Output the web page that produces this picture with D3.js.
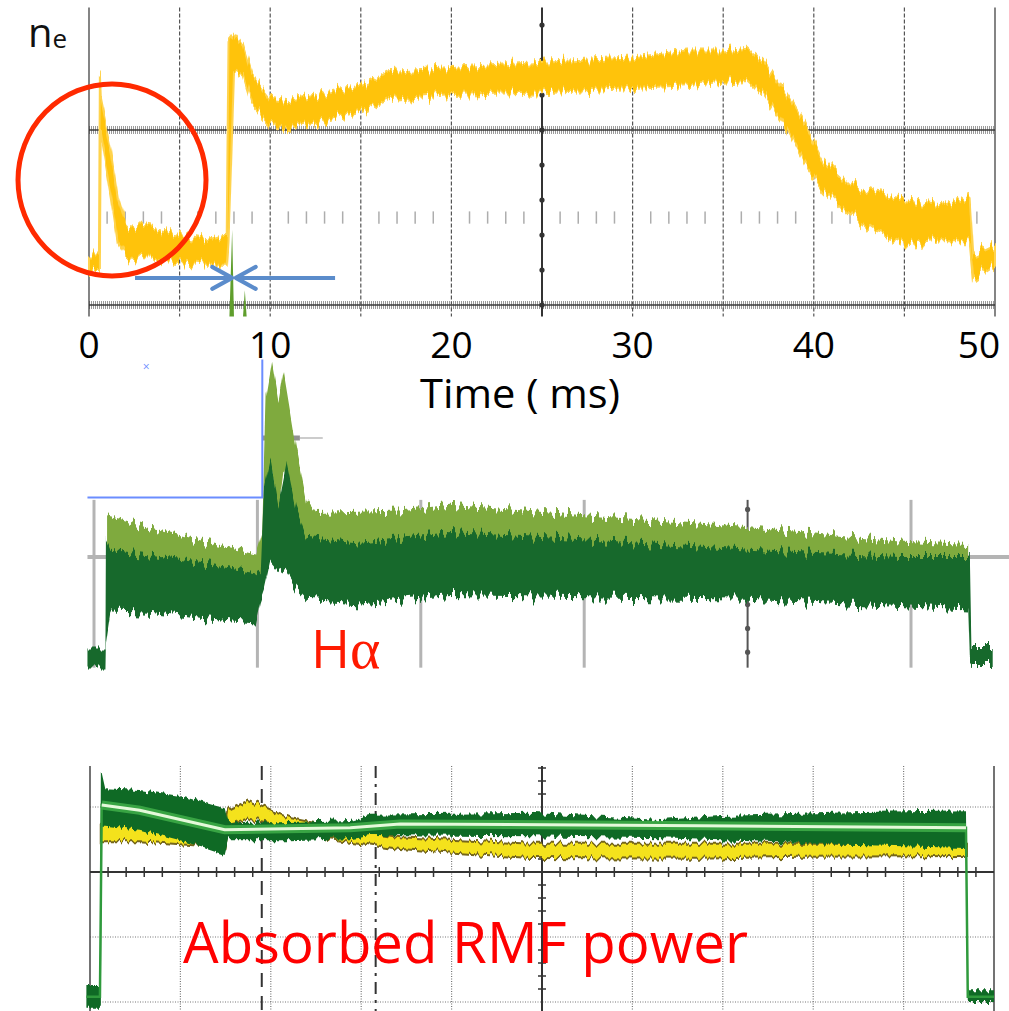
<!DOCTYPE html>
<html lang="en">
<head>
<meta charset="UTF-8">
<title>n_e, H-alpha and absorbed RMF power</title>
<script src="https://d3js.org/d3.v7.min.js"></script>
<style>
  body { margin: 0; padding: 0; background: #fff; }
  svg { display: block; font-family: "Open Sans", sans-serif; }
</style>
</head>
<body>
<div id="chart"></div>
<script>
// ---------- top trace: electron density n_e (time in ms, height in scope divisions)
const neTime = [0, 0.55, 0.6, 0.65, 1.2, 1.6, 2, 3, 5, 6.5, 7.4, 7.6, 7.7, 8.0, 8.5, 9, 10, 11, 13, 15, 16.5,
                20, 25, 30, 33, 35, 36.3, 37.2, 38.5, 39.5, 40.5, 42, 43.5, 45, 47, 48.6, 48.8, 50];
const neHigh = [0.59, 0.59, 2.61, 2.34, 1.77, 1.2, 0.91, 0.88, 0.8, 0.74, 0.8, 0.8, 3.03, 3.11, 2.97, 2.63, 2.37, 2.34, 2.43, 2.51, 2.66,
                2.71, 2.78, 2.83, 2.91, 2.91, 2.94, 2.78, 2.4, 2.06, 1.66, 1.37, 1.26, 1.2, 1.14, 1.26, 0.57, 0.69];
const neLow  = [0.4, 0.4, 0.4, 1.94, 1.26, 0.69, 0.54, 0.51, 0.49, 0.46, 0.46, 0.46, 0.74, 2.69, 2.63, 2.29, 2.06, 2.02, 2.11, 2.21, 2.34,
                2.4, 2.43, 2.48, 2.51, 2.55, 2.57, 2.4, 2.0, 1.6, 1.31, 1.03, 0.8, 0.69, 0.74, 0.74, 0.29, 0.46];
const timeTicks = [0, 10, 20, 30, 40, 50];
// green trigger spikes in the top trace
const spikeTime = [7.75, 7.9, 8.0, 8.5, 8.6, 8.7];
const spikeHigh = [-0.13, 0.86, -0.13, -0.13, 0.17, -0.13];

// ---------- H-alpha traces (x and y in scope divisions)
const haDarkX    = [-0.04, 0.07, 0.073, 0.1, 0.34, 0.65, 0.99, 1.02, 1.04, 1.08, 1.13, 1.18, 1.24, 1.3, 1.63, 2.18, 3.1, 4.01, 4.93, 5.35, 5.36, 5.37, 5.5];
const haDarkHigh = [-0.76, -0.76, 0.14, 0.06, 0.02, -0.04, -0.13, -0.11, 0.56, 0.82, 0.44, 0.79, 0.39, 0.17, 0.12, 0.21, 0.14, 0.06, 0, 0, 0, -0.74, -0.74];
const haDarkLow  = [-0.92, -0.92, -0.7, -0.45, -0.46, -0.51, -0.55, -0.36, -0.28, -0.03, -0.11, -0.15, -0.28, -0.36, -0.39, -0.32, -0.34, -0.36, -0.42, -0.45, -0.87, -0.89, -0.89];
const haLightX    = [0.08, 0.34, 0.65, 0.99, 1.03, 1.05, 1.09, 1.13, 1.16, 1.24, 1.3, 1.36, 1.87, 2.18, 3.1, 4.01, 4.93, 5.35];
const haLightHigh = [0.35, 0.25, 0.14, 0.03, 0.23, 1.32, 1.64, 1.32, 1.57, 0.9, 0.48, 0.37, 0.39, 0.44, 0.34, 0.25, 0.13, 0.1];
const haLightLow  = [-0.03, -0.07, -0.11, -0.19, -0.19, 0.31, 0.73, 0.39, 0.73, 0.31, 0.1, 0.06, 0.08, 0.1, 0.06, 0.02, -0.03, -0.07];

// ---------- absorbed RMF power traces (scope divisions)
const rmfGreenX    = [-0.04, 0.11, 0.12, 0.13, 0.17, 0.55, 1.0, 1.49, 1.53, 2.21, 2.88, 3.1, 4.87, 6.31, 6.97, 8.41, 9.69, 9.71, 10.0];
const rmfGreenHigh = [-1.74, -1.74, 1.54, 1.54, 1.29, 1.26, 1.17, 0.98, 0.75, 0.77, 0.8, 0.88, 0.91, 0.8, 0.86, 0.92, 0.95, -1.82, -1.82];
const rmfGreenLow  = [-2.09, -2.09, -2.09, 0.71, 0.71, 0.65, 0.49, 0.26, 0.49, 0.49, 0.52, 0.57, 0.55, 0.52, 0.49, 0.42, 0.37, -2.0, -2.0];
const rmfCoreX     = [-0.04, 0.11, 0.13, 0.55, 1.49, 2.88, 3.43, 6.75, 9.69, 9.71, 10.0];
const rmfCoreV     = [-1.92, -1.92, 1.03, 0.95, 0.65, 0.68, 0.74, 0.71, 0.68, -1.92, -1.92];
const rmfYellowX    = [0.13, 0.55, 1.22, 1.49, 1.53, 1.77, 1.99, 2.21, 2.65, 2.99, 3.43, 4.87, 6.75, 7.85, 9.69];
const rmfYellowHigh = [0.74, 0.71, 0.62, 0.57, 0.92, 1.08, 0.95, 0.83, 0.71, 0.62, 0.52, 0.42, 0.42, 0.42, 0.42];
const rmfYellowLow  = [0.49, 0.49, 0.42, 0.37, 0.74, 0.83, 0.77, 0.68, 0.52, 0.46, 0.37, 0.23, 0.22, 0.25, 0.26];

const W = 1009, H = 1011;
const svg = d3.select("#chart").append("svg")
    .attr("width", W)
    .attr("height", H);

const defs = svg.append("defs");

// jagged-edge look of the scope traces (only moves the drawn band up/down a little)
function addJag(id, freq, scale, seed) {
    const f = defs.append("filter").attr("id", id)
        .attr("x", "-2%").attr("y", "-40%").attr("width", "104%").attr("height", "180%")
        .attr("color-interpolation-filters", "sRGB");
    f.append("feTurbulence").attr("type", "fractalNoise")
        .attr("baseFrequency", freq + " 0.002").attr("numOctaves", 2)
        .attr("seed", seed).attr("result", "n");
    f.append("feColorMatrix").attr("in", "n").attr("type", "matrix")
        .attr("values", "0 0 0 0 0.5  0 1 0 0 0  0 0 1 0 0  0 0 0 0 1")
        .attr("result", "m");
    f.append("feDisplacementMap").attr("in", "SourceGraphic").attr("in2", "m")
        .attr("scale", scale).attr("xChannelSelector", "R").attr("yChannelSelector", "G");
}
addJag("jagNe", 0.35, 22, 3);
addJag("jagHa", 0.25, 26, 7);
addJag("jagRmf", 0.3, 10, 11);

function band(xs, x, y, hi, lo) {
    return d3.area()
        .x(i => x(xs[i]))
        .y0(i => y(lo[i]))
        .y1(i => y(hi[i]))(d3.range(xs.length));
}

// ================= panel 1 : n_e =================
const x1 = d3.scaleLinear().domain([0, 50]).range([89, 995]);
const y1 = d3.scaleLinear().domain([0, 1]).range([305, 217.5]);
const p1 = svg.append("g");

// thick noisy reference lines
[0, 2].forEach(v => {
    p1.append("line").attr("x1", x1(0)).attr("x2", x1(50)).attr("y1", y1(v)).attr("y2", y1(v))
        .attr("stroke", "#8a8a8a").attr("stroke-width", 8).attr("stroke-dasharray", "1,1").attr("opacity", 0.85);
    p1.append("line").attr("x1", x1(0)).attr("x2", x1(50)).attr("y1", y1(v)).attr("y2", y1(v))
        .attr("stroke", "#3a3a3a").attr("stroke-width", 2).attr("opacity", 0.75);
});

// minor ticks along the middle row
p1.selectAll(".minor").data(d3.range(1, 50).filter(t => t % 5 !== 0)).enter().append("line")
    .attr("x1", d => x1(d)).attr("x2", d => x1(d))
    .attr("y1", y1(1.07)).attr("y2", y1(0.93))
    .attr("stroke", "#777").attr("stroke-width", 1.5).attr("opacity", 0.6);

// vertical grid
p1.selectAll(".vgrid").data(d3.range(0, 51, 5)).enter().append("line")
    .attr("x1", d => x1(d)).attr("x2", d => x1(d))
    .attr("y1", y1(3.4)).attr("y2", y1(-0.13))
    .attr("stroke", d => (d === 0 || d === 50 || d === 25) ? "#333" : "#555")
    .attr("stroke-width", d => d === 25 ? 2 : 1.2)
    .attr("stroke-dasharray", d => (d === 0 || d === 50 || d === 25) ? null : "4,2");
p1.selectAll(".cdot").data(d3.range(0, 9).map(k => k * 0.4)).enter().append("circle")
    .attr("cx", x1(25)).attr("cy", d => y1(d)).attr("r", 2.6).attr("fill", "#333");

// green spikes
p1.append("path")
    .attr("d", band(spikeTime, x1, y1, spikeHigh, spikeTime.map(() => -0.13)))
    .attr("fill", "#5f9e2c");

// yellow n_e trace
p1.append("path")
    .attr("d", band(neTime, x1, y1, neHigh, neLow))
    .attr("fill", "#ffc30b")
    .attr("stroke", "#ffd34d").attr("stroke-width", 2)
    .attr("filter", "url(#jagNe)");

// n_e label
const neLabel = p1.append("text").attr("x", 28).attr("y", 47).attr("fill", "#111");
neLabel.append("tspan").attr("font-size", 40).text("n");
neLabel.append("tspan").attr("font-size", 26).attr("dy", 1).text("e");

// red circle around the start-up phase
p1.append("ellipse")
    .attr("cx", x1(1.27)).attr("cy", y1(1.43))
    .attr("rx", 94).attr("ry", 96)
    .attr("fill", "none").attr("stroke", "#ff2a00").attr("stroke-width", 5);

// blue arrows pointing at the rise
const arrowC = "#5b8ccb";
function arrow(tFrom, tTo, v) {
    const xa = x1(tFrom), xb = x1(tTo), yy = y1(v);
    const dir = xb > xa ? 1 : -1;
    p1.append("line").attr("x1", xa).attr("x2", xb).attr("y1", yy).attr("y2", yy)
        .attr("stroke", arrowC).attr("stroke-width", 4);
    p1.append("path")
        .attr("d", `M${xb - dir * 20},${yy - 11} L${xb},${yy} L${xb - dir * 20},${yy + 11}`)
        .attr("fill", "none").attr("stroke", arrowC).attr("stroke-width", 4)
        .attr("stroke-linecap", "round").attr("stroke-linejoin", "round");
}
arrow(2.54, 7.9, 0.31);
arrow(13.58, 8.1, 0.31);

// time axis labels
svg.selectAll(".tlab").data(timeTicks).enter().append("text")
    .attr("x", d => Math.min(x1(d), W - 30))
    .attr("y", 358)
    .attr("text-anchor", "middle")
    .attr("font-size", 37)
    .attr("fill", "#000")
    .text(d => d);
svg.append("text")
    .attr("x", 520).attr("y", 408)
    .attr("text-anchor", "middle")
    .attr("font-size", 41)
    .attr("textLength", 200).attr("lengthAdjust", "spacingAndGlyphs")
    .attr("fill", "#000")
    .text("Time ( ms)");

// ================= panel 2 : H-alpha =================
const x2 = d3.scaleLinear().domain([0, 5]).range([94, 911]);
const y2 = d3.scaleLinear().domain([0, 1]).range([557, 438]);
const p2 = svg.append("g");

p2.selectAll(".hgrid").data([0, 1, 2, 3, 5]).enter().append("line")
    .attr("x1", d => x2(d)).attr("x2", d => x2(d))
    .attr("y1", y2(0.48)).attr("y2", y2(-0.93))
    .attr("stroke", "#b4b4b4").attr("stroke-width", 3);
p2.append("line").attr("x1", x2(-0.04)).attr("x2", x2(5.6)).attr("y1", y2(0)).attr("y2", y2(0))
    .attr("stroke", "#b4b4b4").attr("stroke-width", 4);
p2.append("line").attr("x1", x2(4)).attr("x2", x2(4)).attr("y1", y2(0.48)).attr("y2", y2(-0.93))
    .attr("stroke", "#555").attr("stroke-width", 2);
p2.selectAll(".hdot").data(d3.range(-4, 3).map(k => k * 0.2)).enter().append("circle")
    .attr("cx", x2(4)).attr("cy", d => y2(d)).attr("r", 2.6).attr("fill", "#555");
// short reference bar near the spike
p2.append("line").attr("x1", x2(1.03)).attr("x2", x2(1.26)).attr("y1", y2(1)).attr("y2", y2(1))
    .attr("stroke", "#777").attr("stroke-width", 5).attr("opacity", 0.8);
p2.append("line").attr("x1", x2(1.26)).attr("x2", x2(1.4)).attr("y1", y2(1)).attr("y2", y2(1))
    .attr("stroke", "#999").attr("stroke-width", 1);

p2.append("path")
    .attr("d", band(haLightX, x2, y2, haLightHigh, haLightLow))
    .attr("fill", "#7faa3e")
    .attr("filter", "url(#jagHa)");
p2.append("path")
    .attr("d", band(haDarkX, x2, y2, haDarkHigh, haDarkLow))
    .attr("fill", "#17692c")
    .attr("filter", "url(#jagHa)");

// blue cursor box
p2.append("path")
    .attr("d", d3.line()([[x2(-0.04), y2(0.5)], [x2(1.03), y2(0.5)], [x2(1.03), y2(1.66)]]))
    .attr("fill", "none").attr("stroke", "#6b8dff").attr("stroke-width", 2);
p2.append("text").attr("x", x2(0.32)).attr("y", y2(1.6) + 4)
    .attr("text-anchor", "middle").attr("font-size", 12).attr("fill", "#6b8dff").text("×");

// H-alpha label
const haLabel = p2.append("text").attr("x", 311).attr("y", 668).attr("fill", "#ff1a00");
haLabel.append("tspan").attr("font-size", 53).text("H");
haLabel.append("tspan").attr("font-size", 58).attr("font-family", "'Liberation Serif', 'DejaVu Serif', serif")
    .text("α");

// ================= panel 3 : absorbed RMF power =================
const x3 = d3.scaleLinear().domain([0, 10]).range([90, 994]);
const y3 = d3.scaleLinear().domain([0, 1]).range([872, 807]);
const p3 = svg.append("g");

p3.selectAll(".vg3").data(d3.range(1, 10).filter(d => d !== 5)).enter().append("line")
    .attr("x1", d => x3(d)).attr("x2", d => x3(d))
    .attr("y1", y3(1.63)).attr("y2", H)
    .attr("stroke", "#777").attr("stroke-width", 1.2).attr("stroke-dasharray", "1,1.5");
p3.selectAll(".hg3").data([1, -1, -2]).enter().append("line")
    .attr("x1", x3(0)).attr("x2", x3(10))
    .attr("y1", d => y3(d)).attr("y2", d => y3(d))
    .attr("stroke", "#777").attr("stroke-width", 1.2).attr("stroke-dasharray", "1,1.5");
[0, 10].forEach(d => {
    p3.append("line").attr("x1", x3(d)).attr("x2", x3(d)).attr("y1", y3(1.63)).attr("y2", H)
        .attr("stroke", "#444").attr("stroke-width", 1.5);
});
// centre axes with ticks
p3.append("line").attr("x1", x3(0)).attr("x2", x3(10)).attr("y1", y3(0)).attr("y2", y3(0))
    .attr("stroke", "#333").attr("stroke-width", 2);
p3.append("line").attr("x1", x3(5)).attr("x2", x3(5)).attr("y1", y3(1.63)).attr("y2", H)
    .attr("stroke", "#333").attr("stroke-width", 2);
p3.selectAll(".xt3").data(d3.range(1, 50).filter(k => k % 5 !== 0).map(k => k * 0.2)).enter().append("line")
    .attr("x1", d => x3(d)).attr("x2", d => x3(d))
    .attr("y1", y3(0) - 5).attr("y2", y3(0) + 5)
    .attr("stroke", "#333").attr("stroke-width", 1.5);
p3.selectAll(".yt3").data(d3.range(-10, 9).filter(k => k % 5 !== 0).map(k => k * 0.2)).enter().append("line")
    .attr("x1", x3(5) - 4).attr("x2", x3(5) + 4)
    .attr("y1", d => y3(d)).attr("y2", d => y3(d))
    .attr("stroke", "#333").attr("stroke-width", 1.5);
// cursor lines
p3.append("line").attr("x1", x3(1.9)).attr("x2", x3(1.9)).attr("y1", y3(1.63)).attr("y2", H)
    .attr("stroke", "#333").attr("stroke-width", 2).attr("stroke-dasharray", "14,9");
p3.append("line").attr("x1", x3(3.16)).attr("x2", x3(3.16)).attr("y1", y3(1.63)).attr("y2", H)
    .attr("stroke", "#333").attr("stroke-width", 2).attr("stroke-dasharray", "12,6,3,6");

// yellow trace with olive rim
const rmf = p3.append("g").attr("filter", "url(#jagRmf)");
rmf.append("path")
    .attr("d", band(rmfYellowX, x3, y3, rmfYellowHigh, rmfYellowLow))
    .attr("fill", "#f4e21c")
    .attr("stroke", "#75661a").attr("stroke-width", 4)
    .attr("paint-order", "stroke");
// green trace: dark body, bright band, pale core
rmf.append("path")
    .attr("d", band(rmfGreenX, x3, y3, rmfGreenHigh, rmfGreenLow))
    .attr("fill", "#0f6a25");
const coreLine = d3.line().x(i => x3(rmfCoreX[i])).y(i => y3(rmfCoreV[i]));
const plateau = d3.range(2, rmfCoreX.length - 2);
// thin rise / fall and baseline
p3.append("path").attr("d", coreLine(d3.range(rmfCoreX.length)))
    .attr("fill", "none").attr("stroke", "#2f9a3c").attr("stroke-width", 2.5);
p3.append("path").attr("d", coreLine(plateau))
    .attr("fill", "none").attr("stroke", "#3fae49").attr("stroke-width", 9).attr("opacity", 0.85);
p3.append("path").attr("d", coreLine(plateau))
    .attr("fill", "none").attr("stroke", "#e4f9da").attr("stroke-width", 3);

// label
p3.append("text")
    .attr("x", 183).attr("y", 963)
    .attr("font-size", 57)
    .attr("textLength", 565).attr("lengthAdjust", "spacingAndGlyphs")
    .attr("fill", "#ff0000")
    .text("Absorbed RMF power");
</script>
</body>
</html>
